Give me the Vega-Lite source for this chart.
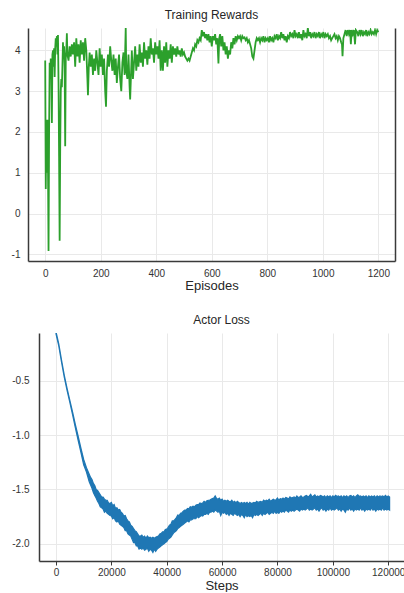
{
  "$schema": "https://vega.github.io/schema/vega-lite/v6.json",
  "background": "white",
  "padding": {"left": 0, "top": 9, "right": 0, "bottom": 0},
  "spacing": 22,
  "config": {
    "view": {"stroke": null},
    "font": "Liberation Sans",
    "title": {"fontSize": 12, "fontWeight": "normal", "color": "#262626", "font": "Liberation Sans"},
    "axis": {"labelFont": "Liberation Sans", "labelFontSize": 10, "labelColor": "#333333", "titleFont": "Liberation Sans", "titleFontSize": 13, "titleFontWeight": "normal", "titleColor": "#262626", "gridColor": "#e9e9e9", "gridWidth": 1, "domainColor": "#3a3a3a", "domainWidth": 1.5, "tickColor": "#3a3a3a"}
  },
  "datasets": {
    "rewards": [
      {"episode":0,"reward":3.75},{"episode":2,"reward":0.6},{"episode":4,"reward":2.3},{"episode":6,"reward":1.0},{"episode":8,"reward":2.3},{"episode":10,"reward":1.2},{"episode":12,"reward":-0.92},{"episode":14,"reward":2.0},{"episode":16,"reward":3.7},{"episode":18,"reward":3.3},{"episode":20,"reward":3.8},{"episode":22,"reward":3.4},{"episode":24,"reward":2.22},{"episode":26,"reward":3.9},{"episode":28,"reward":4.0},{"episode":30,"reward":3.6},{"episode":32,"reward":4.05},{"episode":34,"reward":3.35},{"episode":36,"reward":4.05},{"episode":38,"reward":4.3},{"episode":40,"reward":4.1},{"episode":42,"reward":4.35},{"episode":44,"reward":3.9},{"episode":46,"reward":4.38},{"episode":48,"reward":3.2},{"episode":50,"reward":1.4},{"episode":52,"reward":-0.67},{"episode":54,"reward":1.6},{"episode":56,"reward":3.0},{"episode":58,"reward":3.3},{"episode":60,"reward":3.1},{"episode":62,"reward":3.6},{"episode":64,"reward":4.2},{"episode":66,"reward":3.8},{"episode":68,"reward":4.1},{"episode":70,"reward":3.6},{"episode":72,"reward":1.65},{"episode":74,"reward":3.8},{"episode":76,"reward":4.0},{"episode":78,"reward":4.42},{"episode":80,"reward":3.9},{"episode":84,"reward":3.75},{"episode":88,"reward":4.1},{"episode":92,"reward":3.85},{"episode":96,"reward":4.15},{"episode":100,"reward":3.9},{"episode":104,"reward":4.2},{"episode":108,"reward":3.6},{"episode":112,"reward":4.3},{"episode":116,"reward":3.85},{"episode":120,"reward":4.15},{"episode":124,"reward":3.7},{"episode":128,"reward":4.25},{"episode":132,"reward":3.9},{"episode":136,"reward":4.2},{"episode":140,"reward":3.75},{"episode":144,"reward":4.3},{"episode":148,"reward":4.0},{"episode":152,"reward":3.3},{"episode":154,"reward":2.9},{"episode":157,"reward":3.6},{"episode":160,"reward":3.95},{"episode":164,"reward":3.6},{"episode":168,"reward":3.9},{"episode":172,"reward":3.4},{"episode":176,"reward":3.8},{"episode":180,"reward":3.5},{"episode":184,"reward":4.0},{"episode":188,"reward":3.7},{"episode":192,"reward":3.4},{"episode":196,"reward":4.05},{"episode":200,"reward":3.6},{"episode":204,"reward":3.9},{"episode":208,"reward":3.4},{"episode":212,"reward":3.8},{"episode":216,"reward":3.0},{"episode":219,"reward":2.62},{"episode":222,"reward":3.5},{"episode":226,"reward":3.9},{"episode":230,"reward":3.6},{"episode":234,"reward":4.1},{"episode":238,"reward":3.75},{"episode":242,"reward":3.5},{"episode":246,"reward":3.9},{"episode":250,"reward":3.4},{"episode":254,"reward":3.8},{"episode":258,"reward":3.2},{"episode":262,"reward":3.6},{"episode":266,"reward":3.9},{"episode":270,"reward":3.3},{"episode":274,"reward":3.0},{"episode":278,"reward":3.7},{"episode":282,"reward":3.95},{"episode":286,"reward":3.4},{"episode":290,"reward":4.55},{"episode":292,"reward":3.5},{"episode":296,"reward":3.3},{"episode":300,"reward":3.9},{"episode":304,"reward":3.1},{"episode":306,"reward":2.8},{"episode":309,"reward":3.4},{"episode":312,"reward":4.0},{"episode":316,"reward":3.3},{"episode":320,"reward":3.7},{"episode":324,"reward":4.1},{"episode":328,"reward":3.5},{"episode":332,"reward":3.9},{"episode":336,"reward":3.6},{"episode":340,"reward":4.15},{"episode":344,"reward":3.7},{"episode":348,"reward":3.95},{"episode":352,"reward":3.6},{"episode":356,"reward":4.2},{"episode":360,"reward":3.8},{"episode":364,"reward":4.0},{"episode":368,"reward":3.65},{"episode":372,"reward":4.1},{"episode":376,"reward":3.8},{"episode":380,"reward":4.3},{"episode":384,"reward":3.9},{"episode":388,"reward":4.05},{"episode":392,"reward":3.7},{"episode":396,"reward":4.2},{"episode":400,"reward":3.9},{"episode":404,"reward":4.1},{"episode":408,"reward":3.8},{"episode":412,"reward":4.25},{"episode":416,"reward":3.5},{"episode":420,"reward":4.0},{"episode":424,"reward":3.5},{"episode":428,"reward":4.1},{"episode":432,"reward":3.7},{"episode":436,"reward":4.2},{"episode":440,"reward":3.6},{"episode":444,"reward":4.0},{"episode":448,"reward":3.8},{"episode":452,"reward":4.15},{"episode":456,"reward":3.7},{"episode":460,"reward":4.1},{"episode":464,"reward":3.9},{"episode":468,"reward":4.05},{"episode":472,"reward":3.85},{"episode":476,"reward":4.1},{"episode":480,"reward":3.9},{"episode":484,"reward":4.0},{"episode":488,"reward":3.85},{"episode":492,"reward":4.05},{"episode":496,"reward":3.9},{"episode":500,"reward":3.95},{"episode":504,"reward":3.85},{"episode":508,"reward":3.8},{"episode":512,"reward":3.75},{"episode":516,"reward":3.8},{"episode":520,"reward":3.75},{"episode":524,"reward":3.85},{"episode":528,"reward":3.95},{"episode":532,"reward":4.05},{"episode":536,"reward":4.0},{"episode":540,"reward":4.15},{"episode":544,"reward":4.1},{"episode":548,"reward":4.25},{"episode":552,"reward":4.2},{"episode":556,"reward":4.3},{"episode":560,"reward":4.25},{"episode":564,"reward":4.5},{"episode":568,"reward":4.35},{"episode":572,"reward":4.45},{"episode":576,"reward":4.3},{"episode":580,"reward":4.4},{"episode":584,"reward":4.25},{"episode":588,"reward":4.4},{"episode":592,"reward":4.2},{"episode":596,"reward":4.35},{"episode":600,"reward":4.1},{"episode":604,"reward":4.35},{"episode":608,"reward":4.25},{"episode":612,"reward":4.4},{"episode":616,"reward":4.15},{"episode":620,"reward":4.3},{"episode":624,"reward":3.68},{"episode":627,"reward":4.3},{"episode":630,"reward":4.4},{"episode":634,"reward":4.1},{"episode":638,"reward":4.35},{"episode":642,"reward":4.0},{"episode":646,"reward":4.2},{"episode":650,"reward":3.9},{"episode":654,"reward":4.1},{"episode":658,"reward":3.8},{"episode":662,"reward":4.0},{"episode":666,"reward":3.9},{"episode":670,"reward":4.2},{"episode":674,"reward":4.05},{"episode":678,"reward":4.3},{"episode":682,"reward":4.15},{"episode":686,"reward":4.35},{"episode":690,"reward":4.25},{"episode":694,"reward":4.35},{"episode":698,"reward":4.3},{"episode":702,"reward":4.35},{"episode":706,"reward":4.25},{"episode":710,"reward":4.35},{"episode":714,"reward":4.3},{"episode":718,"reward":4.32},{"episode":722,"reward":4.25},{"episode":726,"reward":4.3},{"episode":730,"reward":4.2},{"episode":734,"reward":4.25},{"episode":738,"reward":4.15},{"episode":742,"reward":4.05},{"episode":746,"reward":3.85},{"episode":750,"reward":3.8},{"episode":754,"reward":4.0},{"episode":758,"reward":4.2},{"episode":762,"reward":4.3},{"episode":766,"reward":4.25},{"episode":770,"reward":4.3},{"episode":774,"reward":4.2},{"episode":778,"reward":4.3},{"episode":782,"reward":4.25},{"episode":786,"reward":4.35},{"episode":790,"reward":4.2},{"episode":794,"reward":4.3},{"episode":798,"reward":4.25},{"episode":802,"reward":4.3},{"episode":806,"reward":4.2},{"episode":810,"reward":4.35},{"episode":814,"reward":4.25},{"episode":818,"reward":4.3},{"episode":822,"reward":4.2},{"episode":826,"reward":4.35},{"episode":830,"reward":4.3},{"episode":834,"reward":4.4},{"episode":838,"reward":4.25},{"episode":842,"reward":4.35},{"episode":846,"reward":4.3},{"episode":850,"reward":4.45},{"episode":854,"reward":4.3},{"episode":858,"reward":4.4},{"episode":862,"reward":4.25},{"episode":866,"reward":4.35},{"episode":870,"reward":4.2},{"episode":874,"reward":4.35},{"episode":878,"reward":4.3},{"episode":882,"reward":4.45},{"episode":886,"reward":4.35},{"episode":890,"reward":4.4},{"episode":894,"reward":4.3},{"episode":898,"reward":4.5},{"episode":902,"reward":4.35},{"episode":906,"reward":4.4},{"episode":910,"reward":4.3},{"episode":914,"reward":4.45},{"episode":918,"reward":4.3},{"episode":922,"reward":4.4},{"episode":926,"reward":4.25},{"episode":930,"reward":4.5},{"episode":934,"reward":4.35},{"episode":938,"reward":4.4},{"episode":942,"reward":4.3},{"episode":946,"reward":4.55},{"episode":950,"reward":4.35},{"episode":954,"reward":4.45},{"episode":958,"reward":4.3},{"episode":962,"reward":4.4},{"episode":966,"reward":4.35},{"episode":970,"reward":4.45},{"episode":974,"reward":4.3},{"episode":978,"reward":4.4},{"episode":982,"reward":4.35},{"episode":986,"reward":4.45},{"episode":990,"reward":4.3},{"episode":994,"reward":4.4},{"episode":998,"reward":4.35},{"episode":1002,"reward":4.45},{"episode":1006,"reward":4.3},{"episode":1010,"reward":4.4},{"episode":1014,"reward":4.35},{"episode":1018,"reward":4.4},{"episode":1022,"reward":4.3},{"episode":1026,"reward":4.35},{"episode":1030,"reward":4.25},{"episode":1034,"reward":4.3},{"episode":1038,"reward":4.35},{"episode":1042,"reward":4.4},{"episode":1046,"reward":4.3},{"episode":1050,"reward":4.35},{"episode":1054,"reward":4.25},{"episode":1058,"reward":4.35},{"episode":1062,"reward":4.3},{"episode":1066,"reward":4.2},{"episode":1069,"reward":4.15},{"episode":1071,"reward":3.86},{"episode":1074,"reward":4.3},{"episode":1078,"reward":4.4},{"episode":1082,"reward":4.5},{"episode":1086,"reward":4.35},{"episode":1090,"reward":4.5},{"episode":1094,"reward":4.4},{"episode":1098,"reward":4.5},{"episode":1101,"reward":4.15},{"episode":1104,"reward":4.5},{"episode":1108,"reward":4.4},{"episode":1112,"reward":4.5},{"episode":1116,"reward":4.15},{"episode":1119,"reward":4.5},{"episode":1124,"reward":4.45},{"episode":1128,"reward":4.35},{"episode":1132,"reward":4.5},{"episode":1136,"reward":4.4},{"episode":1140,"reward":4.5},{"episode":1144,"reward":4.35},{"episode":1148,"reward":4.45},{"episode":1152,"reward":4.4},{"episode":1156,"reward":4.5},{"episode":1160,"reward":4.35},{"episode":1164,"reward":4.45},{"episode":1168,"reward":4.4},{"episode":1172,"reward":4.5},{"episode":1176,"reward":4.4},{"episode":1180,"reward":4.45},{"episode":1184,"reward":4.4},{"episode":1188,"reward":4.5},{"episode":1192,"reward":4.4},{"episode":1196,"reward":4.5},{"episode":1200,"reward":4.45}
    ],
    "loss": [
      {"step":0,"lo":-0.07,"hi":-0.05},{"step":1000,"lo":-0.18,"hi":-0.16},{"step":2000,"lo":-0.33,"hi":-0.31},{"step":3000,"lo":-0.47,"hi":-0.45},{"step":4000,"lo":-0.59,"hi":-0.57},{"step":5000,"lo":-0.7,"hi":-0.68},{"step":6000,"lo":-0.815,"hi":-0.79},{"step":7000,"lo":-0.935,"hi":-0.905},{"step":8000,"lo":-1.05,"hi":-1.01},{"step":9000,"lo":-1.16,"hi":-1.12},{"step":10000,"lo":-1.275,"hi":-1.225},{"step":11000,"lo":-1.34,"hi":-1.3},
      {"step":12000,"lo":-1.43,"hi":-1.36},{"step":12500,"lo":-1.46,"hi":-1.39},{"step":13000,"lo":-1.49,"hi":-1.41},{"step":13500,"lo":-1.53,"hi":-1.445},{"step":14000,"lo":-1.555,"hi":-1.465},{"step":14500,"lo":-1.58,"hi":-1.5},{"step":15000,"lo":-1.61,"hi":-1.51},{"step":15500,"lo":-1.63,"hi":-1.53},{"step":16000,"lo":-1.66,"hi":-1.55},{"step":16500,"lo":-1.67,"hi":-1.57},{"step":17000,"lo":-1.68,"hi":-1.57},{"step":17500,"lo":-1.71,"hi":-1.59},{"step":18000,"lo":-1.7,"hi":-1.6},{"step":18500,"lo":-1.72,"hi":-1.6},{"step":19000,"lo":-1.73,"hi":-1.625},{"step":19500,"lo":-1.74,"hi":-1.63},{"step":20000,"lo":-1.745,"hi":-1.62},{"step":20500,"lo":-1.77,"hi":-1.65},{"step":21000,"lo":-1.76,"hi":-1.64},{"step":21500,"lo":-1.79,"hi":-1.675},{"step":22000,"lo":-1.8,"hi":-1.67},{"step":22500,"lo":-1.79,"hi":-1.69},{"step":23000,"lo":-1.82,"hi":-1.685},{"step":23500,"lo":-1.83,"hi":-1.71},{"step":24000,"lo":-1.84,"hi":-1.72},{"step":24500,"lo":-1.85,"hi":-1.745},{"step":25000,"lo":-1.88,"hi":-1.74},{"step":25500,"lo":-1.88,"hi":-1.77},{"step":26000,"lo":-1.91,"hi":-1.79},{"step":26500,"lo":-1.92,"hi":-1.8},{"step":27000,"lo":-1.93,"hi":-1.83},{"step":27500,"lo":-1.96,"hi":-1.84},{"step":28000,"lo":-1.99,"hi":-1.86},{"step":28500,"lo":-1.99,"hi":-1.88},{"step":29000,"lo":-2.02,"hi":-1.89},{"step":29500,"lo":-2.02,"hi":-1.91},{"step":30000,"lo":-2.05,"hi":-1.93},{"step":30500,"lo":-2.04,"hi":-1.93},{"step":31000,"lo":-2.05,"hi":-1.92},{"step":31500,"lo":-2.04,"hi":-1.94},{"step":32000,"lo":-2.06,"hi":-1.93},{"step":32500,"lo":-2.05,"hi":-1.95},{"step":33000,"lo":-2.04,"hi":-1.93},{"step":33500,"lo":-2.07,"hi":-1.945},{"step":34000,"lo":-2.05,"hi":-1.94},{"step":34500,"lo":-2.06,"hi":-1.95},{"step":35000,"lo":-2.08,"hi":-1.94},{"step":35500,"lo":-2.05,"hi":-1.95},{"step":36000,"lo":-2.07,"hi":-1.94},{"step":36500,"lo":-2.05,"hi":-1.935},{"step":37000,"lo":-2.04,"hi":-1.93},{"step":37500,"lo":-2.03,"hi":-1.91},{"step":38000,"lo":-2.02,"hi":-1.905},{"step":38500,"lo":-2.01,"hi":-1.89},{"step":39000,"lo":-2.0,"hi":-1.89},{"step":39500,"lo":-1.99,"hi":-1.87},{"step":40000,"lo":-1.98,"hi":-1.865},{"step":40500,"lo":-1.96,"hi":-1.85},{"step":41000,"lo":-1.95,"hi":-1.83},{"step":41500,"lo":-1.94,"hi":-1.82},{"step":42000,"lo":-1.92,"hi":-1.79},{"step":42500,"lo":-1.9,"hi":-1.79},{"step":43000,"lo":-1.89,"hi":-1.775},{"step":43500,"lo":-1.88,"hi":-1.76},{"step":44000,"lo":-1.86,"hi":-1.735},{"step":44500,"lo":-1.85,"hi":-1.74},{"step":45000,"lo":-1.84,"hi":-1.72},{"step":45500,"lo":-1.83,"hi":-1.715},{"step":46000,"lo":-1.82,"hi":-1.7},{"step":46500,"lo":-1.81,"hi":-1.69},{"step":47000,"lo":-1.8,"hi":-1.69},{"step":47500,"lo":-1.79,"hi":-1.675},{"step":48000,"lo":-1.8,"hi":-1.68},{"step":48500,"lo":-1.78,"hi":-1.66},{"step":49000,"lo":-1.78,"hi":-1.665},{"step":49500,"lo":-1.77,"hi":-1.655},{"step":50000,"lo":-1.77,"hi":-1.66},{"step":50500,"lo":-1.77,"hi":-1.645},{"step":51000,"lo":-1.75,"hi":-1.64},{"step":51500,"lo":-1.76,"hi":-1.64},{"step":52000,"lo":-1.75,"hi":-1.625},{"step":52500,"lo":-1.74,"hi":-1.63},{"step":53000,"lo":-1.745,"hi":-1.625},{"step":53500,"lo":-1.73,"hi":-1.61},{"step":54000,"lo":-1.73,"hi":-1.62},{"step":54500,"lo":-1.72,"hi":-1.605},{"step":55000,"lo":-1.73,"hi":-1.6},{"step":55500,"lo":-1.71,"hi":-1.6},{"step":56000,"lo":-1.71,"hi":-1.59},{"step":56500,"lo":-1.7,"hi":-1.585},{"step":57000,"lo":-1.71,"hi":-1.58},{"step":57500,"lo":-1.69,"hi":-1.56},{"step":58000,"lo":-1.7,"hi":-1.585},{"step":58500,"lo":-1.71,"hi":-1.59},{"step":59000,"lo":-1.7,"hi":-1.58},{"step":59500,"lo":-1.74,"hi":-1.6},{"step":60000,"lo":-1.71,"hi":-1.59},{"step":60500,"lo":-1.72,"hi":-1.61},{"step":61000,"lo":-1.71,"hi":-1.6},{"step":61500,"lo":-1.73,"hi":-1.61},{"step":62000,"lo":-1.72,"hi":-1.6},{"step":62500,"lo":-1.74,"hi":-1.61},{"step":63000,"lo":-1.72,"hi":-1.615},{"step":63500,"lo":-1.73,"hi":-1.6},{"step":64000,"lo":-1.74,"hi":-1.62},{"step":64500,"lo":-1.72,"hi":-1.61},{"step":65000,"lo":-1.73,"hi":-1.625},{"step":65500,"lo":-1.74,"hi":-1.61},{"step":66000,"lo":-1.73,"hi":-1.62},{"step":66500,"lo":-1.75,"hi":-1.63},{"step":67000,"lo":-1.73,"hi":-1.62},{"step":67500,"lo":-1.74,"hi":-1.63},{"step":68000,"lo":-1.76,"hi":-1.62},{"step":68500,"lo":-1.73,"hi":-1.63},{"step":69000,"lo":-1.75,"hi":-1.62},{"step":69500,"lo":-1.74,"hi":-1.635},{"step":70000,"lo":-1.75,"hi":-1.62},{"step":70500,"lo":-1.74,"hi":-1.63},{"step":71000,"lo":-1.76,"hi":-1.625},{"step":71500,"lo":-1.73,"hi":-1.62},{"step":72000,"lo":-1.74,"hi":-1.625},{"step":72500,"lo":-1.73,"hi":-1.61},{"step":73000,"lo":-1.74,"hi":-1.62},{"step":73500,"lo":-1.73,"hi":-1.615},{"step":74000,"lo":-1.72,"hi":-1.61},{"step":74500,"lo":-1.74,"hi":-1.62},{"step":75000,"lo":-1.72,"hi":-1.6},{"step":75500,"lo":-1.73,"hi":-1.61},{"step":76000,"lo":-1.72,"hi":-1.6},{"step":76500,"lo":-1.71,"hi":-1.605},{"step":77000,"lo":-1.73,"hi":-1.59},{"step":77500,"lo":-1.72,"hi":-1.61},{"step":78000,"lo":-1.71,"hi":-1.6},{"step":78500,"lo":-1.72,"hi":-1.59},{"step":79000,"lo":-1.7,"hi":-1.6},{"step":79500,"lo":-1.72,"hi":-1.595},{"step":80000,"lo":-1.71,"hi":-1.58},{"step":80500,"lo":-1.72,"hi":-1.6},{"step":81000,"lo":-1.7,"hi":-1.585},{"step":81500,"lo":-1.71,"hi":-1.59},{"step":82000,"lo":-1.7,"hi":-1.58},{"step":82500,"lo":-1.71,"hi":-1.59},{"step":83000,"lo":-1.69,"hi":-1.575},{"step":83500,"lo":-1.7,"hi":-1.58},{"step":84000,"lo":-1.71,"hi":-1.59},{"step":84500,"lo":-1.69,"hi":-1.57},{"step":85000,"lo":-1.7,"hi":-1.58},{"step":85500,"lo":-1.69,"hi":-1.575},{"step":86000,"lo":-1.7,"hi":-1.57},{"step":86500,"lo":-1.69,"hi":-1.58},{"step":87000,"lo":-1.68,"hi":-1.56},{"step":87500,"lo":-1.69,"hi":-1.575},{"step":88000,"lo":-1.7,"hi":-1.57},{"step":88500,"lo":-1.68,"hi":-1.56},{"step":89000,"lo":-1.69,"hi":-1.575},{"step":89500,"lo":-1.68,"hi":-1.57},{"step":90000,"lo":-1.69,"hi":-1.56},{"step":90500,"lo":-1.68,"hi":-1.555},{"step":91000,"lo":-1.67,"hi":-1.57},{"step":91500,"lo":-1.69,"hi":-1.56},{"step":92000,"lo":-1.68,"hi":-1.545},{"step":92500,"lo":-1.69,"hi":-1.57},{"step":93000,"lo":-1.68,"hi":-1.56},{"step":93500,"lo":-1.67,"hi":-1.55},{"step":94000,"lo":-1.69,"hi":-1.57},{"step":94500,"lo":-1.68,"hi":-1.56},{"step":95000,"lo":-1.7,"hi":-1.57},{"step":95500,"lo":-1.68,"hi":-1.555},{"step":96000,"lo":-1.67,"hi":-1.56},{"step":96500,"lo":-1.69,"hi":-1.57},{"step":97000,"lo":-1.68,"hi":-1.56},{"step":97500,"lo":-1.7,"hi":-1.575},{"step":98000,"lo":-1.68,"hi":-1.56},{"step":98500,"lo":-1.69,"hi":-1.57},{"step":99000,"lo":-1.67,"hi":-1.56},{"step":99500,"lo":-1.69,"hi":-1.575},{"step":100000,"lo":-1.68,"hi":-1.56},{"step":100500,"lo":-1.69,"hi":-1.57},{"step":101000,"lo":-1.68,"hi":-1.555},{"step":101500,"lo":-1.67,"hi":-1.565},{"step":102000,"lo":-1.69,"hi":-1.56},{"step":102500,"lo":-1.68,"hi":-1.57},{"step":103000,"lo":-1.7,"hi":-1.56},{"step":103500,"lo":-1.68,"hi":-1.575},{"step":104000,"lo":-1.69,"hi":-1.56},{"step":104500,"lo":-1.71,"hi":-1.57},{"step":105000,"lo":-1.68,"hi":-1.56},{"step":105500,"lo":-1.69,"hi":-1.575},{"step":106000,"lo":-1.67,"hi":-1.56},{"step":106500,"lo":-1.69,"hi":-1.555},{"step":107000,"lo":-1.68,"hi":-1.57},{"step":107500,"lo":-1.7,"hi":-1.56},{"step":108000,"lo":-1.68,"hi":-1.575},{"step":108500,"lo":-1.69,"hi":-1.56},{"step":109000,"lo":-1.68,"hi":-1.55},{"step":109500,"lo":-1.69,"hi":-1.565},{"step":110000,"lo":-1.67,"hi":-1.56},{"step":110500,"lo":-1.69,"hi":-1.57},{"step":111000,"lo":-1.68,"hi":-1.56},{"step":111500,"lo":-1.7,"hi":-1.57},{"step":112000,"lo":-1.68,"hi":-1.56},{"step":112500,"lo":-1.69,"hi":-1.575},{"step":113000,"lo":-1.68,"hi":-1.56},{"step":113500,"lo":-1.69,"hi":-1.57},{"step":114000,"lo":-1.67,"hi":-1.56},{"step":114500,"lo":-1.69,"hi":-1.57},{"step":115000,"lo":-1.68,"hi":-1.56},{"step":115500,"lo":-1.7,"hi":-1.575},{"step":116000,"lo":-1.68,"hi":-1.56},{"step":116500,"lo":-1.69,"hi":-1.57},{"step":117000,"lo":-1.68,"hi":-1.56},{"step":117500,"lo":-1.69,"hi":-1.565},{"step":118000,"lo":-1.67,"hi":-1.56},{"step":118500,"lo":-1.69,"hi":-1.57},{"step":119000,"lo":-1.68,"hi":-1.555},{"step":119500,"lo":-1.69,"hi":-1.57},{"step":120000,"lo":-1.68,"hi":-1.56},{"step":120500,"lo":-1.69,"hi":-1.57}
    ],
    "empty": []
  },
  "vconcat": [
    {
      "title": {"text": "Training Rewards", "offset": 6},
      "width": 367,
      "height": 233,
      "data": {"name": "rewards"},
      "layer": [
        {
          "mark": {"type": "line", "color": "#2ca02c", "strokeWidth": 1.8, "clip": true},
          "encoding": {
            "x": {"field": "episode", "type": "quantitative", "scale": {"domain": [-62, 1260], "nice": false, "zero": false}, "axis": {"values": [0, 200, 400, 600, 800, 1000, 1200], "format": "d", "ticks": false, "labelPadding": 7, "title": "Episodes", "titlePadding": 1}},
            "y": {"field": "reward", "type": "quantitative", "scale": {"domain": [-1.165, 4.55], "nice": false, "zero": false}, "axis": {"values": [-1, 0, 1, 2, 3, 4], "ticks": false, "labelPadding": 8, "minExtent": 28, "maxExtent": 28, "title": null, "labelExpr": "replace(datum.label, '−', '-')"}}
          }
        },
        {
          "mark": {"type": "line", "opacity": 0},
          "encoding": {
            "x": {"field": "episode", "type": "quantitative", "scale": {"domain": [-62, 1260], "nice": false, "zero": false}},
            "y": {"field": "reward", "type": "quantitative", "scale": {"domain": [-1.165, 4.55], "nice": false, "zero": false}, "axis": {"orient": "right", "labels": false, "ticks": false, "grid": false, "title": null, "minExtent": 0, "maxExtent": 0}}
          }
        }
      ],
      "resolve": {"axis": {"y": "independent"}}
    },
    {
      "spacing": -18,
      "hconcat": [
        {
          "width": 1,
          "height": 228,
          "data": {"name": "empty"},
          "mark": {"type": "point", "opacity": 0},
          "encoding": {}
        },
        {
          "title": {"text": "Actor Loss", "offset": 6},
          "width": 365,
          "height": 228,
          "data": {"name": "loss"},
          "mark": {"type": "area", "color": "#1f77b4", "stroke": "#1f77b4", "strokeWidth": 1.2, "clip": true},
          "encoding": {
            "x": {"field": "step", "type": "quantitative", "scale": {"domain": [-6140, 125700], "nice": false, "zero": false}, "axis": {"values": [0, 20000, 40000, 60000, 80000, 100000, 120000], "format": "d", "ticks": true, "tickSize": 4, "labelPadding": 2, "title": "Steps", "titlePadding": 2}},
            "y": {"field": "lo", "type": "quantitative", "scale": {"domain": [-2.159, -0.061], "nice": false, "zero": false}, "axis": {"values": [-2, -1.5, -1, -0.5], "ticks": false, "labelPadding": 10, "minExtent": 10, "maxExtent": 10, "title": null, "labelExpr": "replace(format(datum.value, '.1f'), '−', '-')"}},
            "y2": {"field": "hi"}
          }
        }
      ]
    }
  ]
}
